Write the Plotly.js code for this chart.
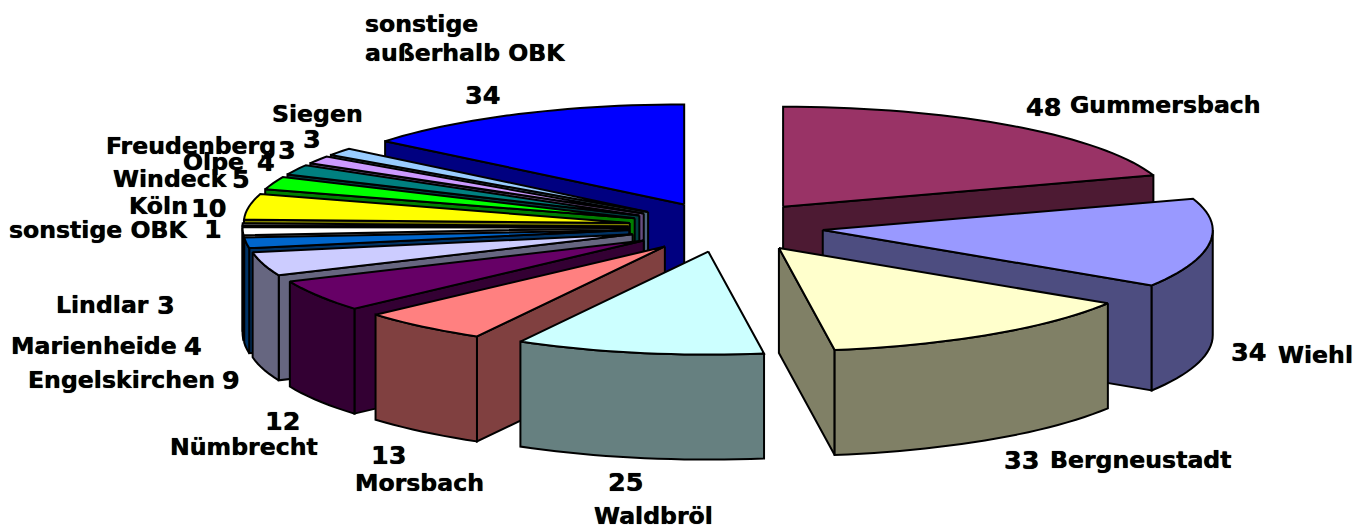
<!DOCTYPE html>
<html>
<head>
<meta charset="utf-8">
<script src="https://cdn.plot.ly/plotly-3.0.1.min.js"></script>
<style>html,body{margin:0;padding:0;background:#fff}#chart{width:1365px;height:530px}</style>
</head>
<body>
<div id="chart"></div>
<script>
// Data (clockwise from 12 o'clock)
const categories = ["Gummersbach","Wiehl","Bergneustadt","Waldbröl","Morsbach","Nümbrecht","Engelskirchen","Marienheide","Lindlar","sonstige OBK","Köln","Windeck","Olpe","Freudenberg","Siegen","sonstige außerhalb OBK"];
const values = [48,34,33,25,13,12,9,4,3,1,10,5,4,3,3,34];
const topColors = ["#993366","#9999FF","#FFFFCC","#CCFFFF","#FF8080","#660066","#CCCCFF","#0066CC","#FFFFFF","#555555","#FFFF00","#00FF00","#008080","#CC99FF","#99CCFF","#0000FF"];
const sideColors = ["#4D1A33","#4D4D80","#808066","#668080","#804040","#330033","#666680","#003366","#808080","#2A2A2A","#808000","#008000","#004040","#664D80","#4D6680","#000080"];

// Projection of the tilted pie (slightly larger towards the viewer, narrower on the left)
const CX = 726, CY = 227, RX_RIGHT = 390, RX_LEFT = 386, RY_BACK = 100, RY_FRONT = 103, DEPTH = 105, EXPLODE = 0.25;
const FONT = "DejaVu Sans";

// Label placement [left x, centre y] per category, in the same order as categories
const namePos = [[1070,105],[1278,355],[1050,460],[594,516],[355,483],[170,447],[28,380],[11,346],[56,305],[9,230],[129,206],[113,179],[183,162],[106,146],[272,114],[365,38]];
const valuePos = [[1026,107],[1231,352],[1004,460],[608,482],[371,455],[265,421],[222,380],[184,346],[157,305],[204,229],[191,208],[232,179],[257,162],[278,150],[303,139],[465,95]];

const total = values.reduce((a,b)=>a+b,0);
const rad = d => d*Math.PI/180;
let acc = 0;
const slices = values.map((v,i)=>{
  const start = acc/total*360; acc += v; const end = acc/total*360;
  const mid = (start+end)/2;
  return {i,start,end,mid,
    ax: CX + EXPLODE*RX_RIGHT*Math.sin(rad(mid)),
    ay: CY - EXPLODE*RY_BACK*Math.cos(rad(mid))};
});
const rim = (s,t) => {
  const sn=Math.sin(rad(t)), cs=Math.cos(rad(t));
  return [s.ax + (sn>=0?RX_RIGHT:RX_LEFT)*sn, s.ay - (cs>=0?RY_BACK:RY_FRONT)*cs];
};
function arc(s,a,b){
  const pts=[]; const n=Math.max(2,Math.ceil((b-a)/2));
  for(let k=0;k<=n;k++) pts.push(rim(s,a+(b-a)*k/n));
  return pts;
}
const traces=[];
function poly(pts,color){
  const c=pts.concat([pts[0]]);
  traces.push({type:"scatter",mode:"lines",x:c.map(p=>p[0]),y:c.map(p=>p[1]),fill:"toself",fillcolor:color,
    line:{color:"#000",width:2,simplify:false},hoverinfo:"skip",showlegend:false});
}
function radialWall(s,t,color){
  const r=rim(s,t);
  poly([[s.ax,s.ay],r,[r[0],r[1]+DEPTH],[s.ax,s.ay+DEPTH]],color);
}
[...slices].sort((a,b)=>Math.cos(rad(b.mid))-Math.cos(rad(a.mid))).forEach(s=>{
  const side=sideColors[s.i];
  if(Math.sin(rad(s.end))>0) radialWall(s,s.end,side);
  if(Math.sin(rad(s.start))<0) radialWall(s,s.start,side);
  const a=Math.max(s.start,90), b=Math.min(s.end,270);
  if(b>a){
    const top=arc(s,a,b);
    const bottom=top.map(p=>[p[0],p[1]+DEPTH]).reverse();
    poly(top.concat(bottom),side);
  }
  poly([[s.ax,s.ay]].concat(arc(s,s.start,s.end)),topColors[s.i]);
});

const ann=(text,x,y,size)=>({text:"<b>"+text+"</b>",x,y,xref:"x",yref:"y",xanchor:"left",yanchor:"middle",showarrow:false,
  xshift:-2,font:{family:FONT,size,color:"#000",shadow:"0 0 0.7px #000"}});
const annotations=[];
categories.forEach((c,i)=>{
  if(i===15){
    annotations.push(ann("sonstige",namePos[i][0],24,23.6));
    annotations.push(ann("außerhalb OBK",namePos[i][0],53,23.6));
  } else annotations.push(ann(c,namePos[i][0],namePos[i][1],23.6));
  annotations.push(ann(values[i],valuePos[i][0],valuePos[i][1],25.5));
});

Plotly.newPlot("chart",traces,{
  width:1365,height:530,margin:{l:0,r:0,t:0,b:0},
  paper_bgcolor:"#fff",plot_bgcolor:"#fff",showlegend:false,
  xaxis:{range:[0,1365],visible:false,fixedrange:true},
  yaxis:{range:[530,0],visible:false,fixedrange:true},
  annotations
},{staticPlot:true,displayModeBar:false});
</script>
</body>
</html>
